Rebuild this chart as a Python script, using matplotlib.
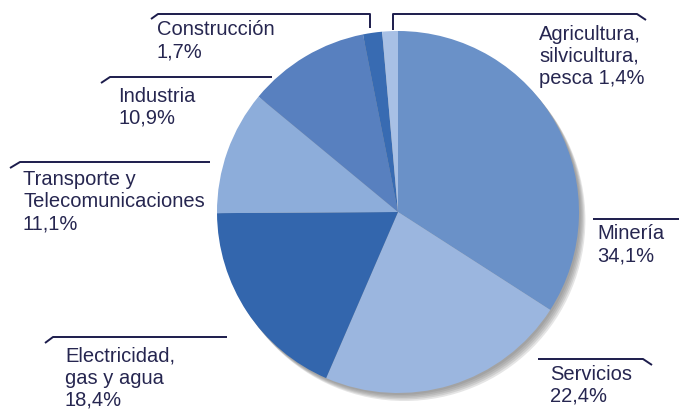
import matplotlib
matplotlib.use("Agg")
import matplotlib.pyplot as plt
from matplotlib.patches import Circle

# Data (clockwise from 12 o'clock)
sectors = ["Minería", "Servicios", "Electricidad, gas y agua",
           "Transporte y Telecomunicaciones", "Industria", "Construcción",
           "Agricultura, silvicultura, pesca"]
shares = [34.1, 22.4, 18.4, 11.1, 10.9, 1.7, 1.4]
label_texts = ["Minería\n34,1%", "Servicios\n22,4%", "Electricidad,\ngas y agua\n18,4%",
               "Transporte y\nTelecomunicaciones\n11,1%", "Industria\n10,9%",
               "Construcción\n1,7%", "Agricultura,\nsilvicultura,\npesca 1,4%"]
colors = ["#6a91c8", "#9bb6df", "#3366ad", "#8dadda", "#5880bf", "#386bb2", "#a8c0e5"]

W, H = 679, 413
fig = plt.figure(figsize=(W / 100, H / 100), dpi=100)
ax = fig.add_axes([0, 0, 1, 1])

cx, cy, r = 398, 212, 181

# soft shadow (lower right)
for off in [8, 6.5, 5, 3.5, 2]:
    ax.add_patch(Circle((cx + off * 0.8, cy + off), r, color="#707070", alpha=0.18, lw=0, zorder=0))

# y axis is inverted below, so counterclock=True draws clockwise on screen
ax.pie(shares, colors=colors, startangle=-90, counterclock=True,
       center=(cx, cy), radius=r, wedgeprops=dict(linewidth=0, antialiased=True, zorder=2),
       frame=True)

ax.set_xlim(0, W)
ax.set_ylim(H, 0)
ax.set_aspect("equal")
ax.axis("off")

lc = "#1c1c4c"
lw = 1.4
leaders = [
    [(593, 219), (679, 219)],                       # Minería
    [(538, 359), (643, 359), (652, 365)],           # Servicios
    [(45, 343), (53, 337), (227, 337)],             # Electricidad
    [(10, 168), (20, 162), (210, 162)],             # Transporte
    [(101, 83), (110, 77), (272, 77)],              # Industria
    [(151, 19), (158, 14), (370, 14), (370, 28)],   # Construcción
    [(393, 30), (393, 14), (637, 14), (646, 20)],   # Agricultura
]
for pts in leaders:
    xs, ys = zip(*pts)
    ax.plot(xs, ys, color=lc, lw=lw, solid_capstyle="butt", zorder=5)

text_pos = [(597, 224), (550, 365), (65, 347), (23, 170), (118, 87), (157, 20), (539, 25)]
for t, (x, y) in zip(label_texts, text_pos):
    ax.text(x, y, t, ha="left", va="top", fontsize=14.5, color="#262650",
            family=["Liberation Sans", "DejaVu Sans"], linespacing=1.2, zorder=6)

fig.savefig("out.png", dpi=100)
